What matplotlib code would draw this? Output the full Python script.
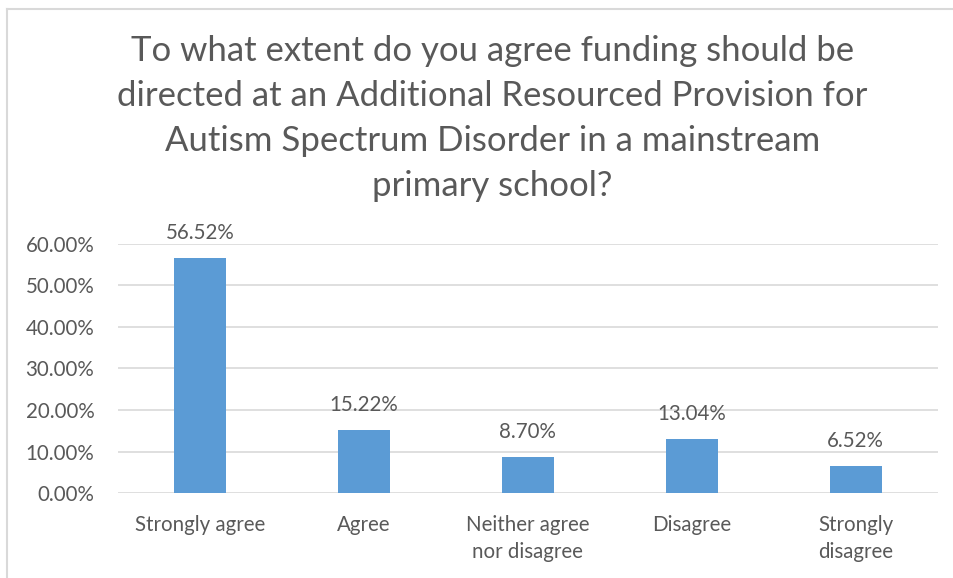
import matplotlib.pyplot as plt
from matplotlib.lines import Line2D
from matplotlib.ticker import PercentFormatter

categories = ["Strongly agree", "Agree", "Neither agree\nnor disagree", "Disagree", "Strongly\ndisagree"]
values = [56.52, 15.22, 8.70, 13.04, 6.52]
title = ("To what extent do you agree funding should be\n"
         "directed at an Additional Resourced Provision for\n"
         "Autism Spectrum Disorder in a mainstream\n"
         "primary school?")

plt.rcParams["font.family"] = ["Lato", "DejaVu Sans"]
text_color = "#595959"

fig = plt.figure(figsize=(9.54, 5.78), dpi=100)
ax = fig.add_axes([0.1237, 0.147, 0.8593, 0.431])

x = range(len(categories))
bars = ax.bar(x, values, width=0.32, color="#5B9BD5", zorder=3)

for b, v in zip(bars, values):
    ax.text(b.get_x() + b.get_width() / 2, v + 3.6, f"{v:.2f}%",
            ha="center", va="bottom", fontsize=14.8, color=text_color)

ax.set_xlim(-0.5, len(categories) - 0.5)
ax.set_ylim(0, 60)
ax.set_yticks(range(0, 61, 10))
ax.yaxis.set_major_formatter(PercentFormatter(decimals=2))
ax.set_xticks(list(x))
ax.set_xticklabels(categories, linespacing=1.4)
ax.tick_params(axis="both", length=0, labelsize=14.8, colors=text_color)
ax.tick_params(axis="x", pad=16)
ax.tick_params(axis="y", pad=17)
ax.grid(axis="y", color="#D9D9D9", linewidth=1.2, zorder=0)
for s in ax.spines.values():
    s.set_visible(False)

fig.text(0.516, 0.94, title, ha="center", va="top", fontsize=25,
         color=text_color, linespacing=1.5)

# chart border (left and top only visible in the crop)
fig.add_artist(Line2D([7.5 / 954, 7.5 / 954], [0, 1 - 8.5 / 578], color="#D9D9D9", linewidth=1.5))
fig.add_artist(Line2D([7.5 / 954, 1], [1 - 8.5 / 578, 1 - 8.5 / 578], color="#D9D9D9", linewidth=1.5))

fig.savefig("out.png", dpi=100)
